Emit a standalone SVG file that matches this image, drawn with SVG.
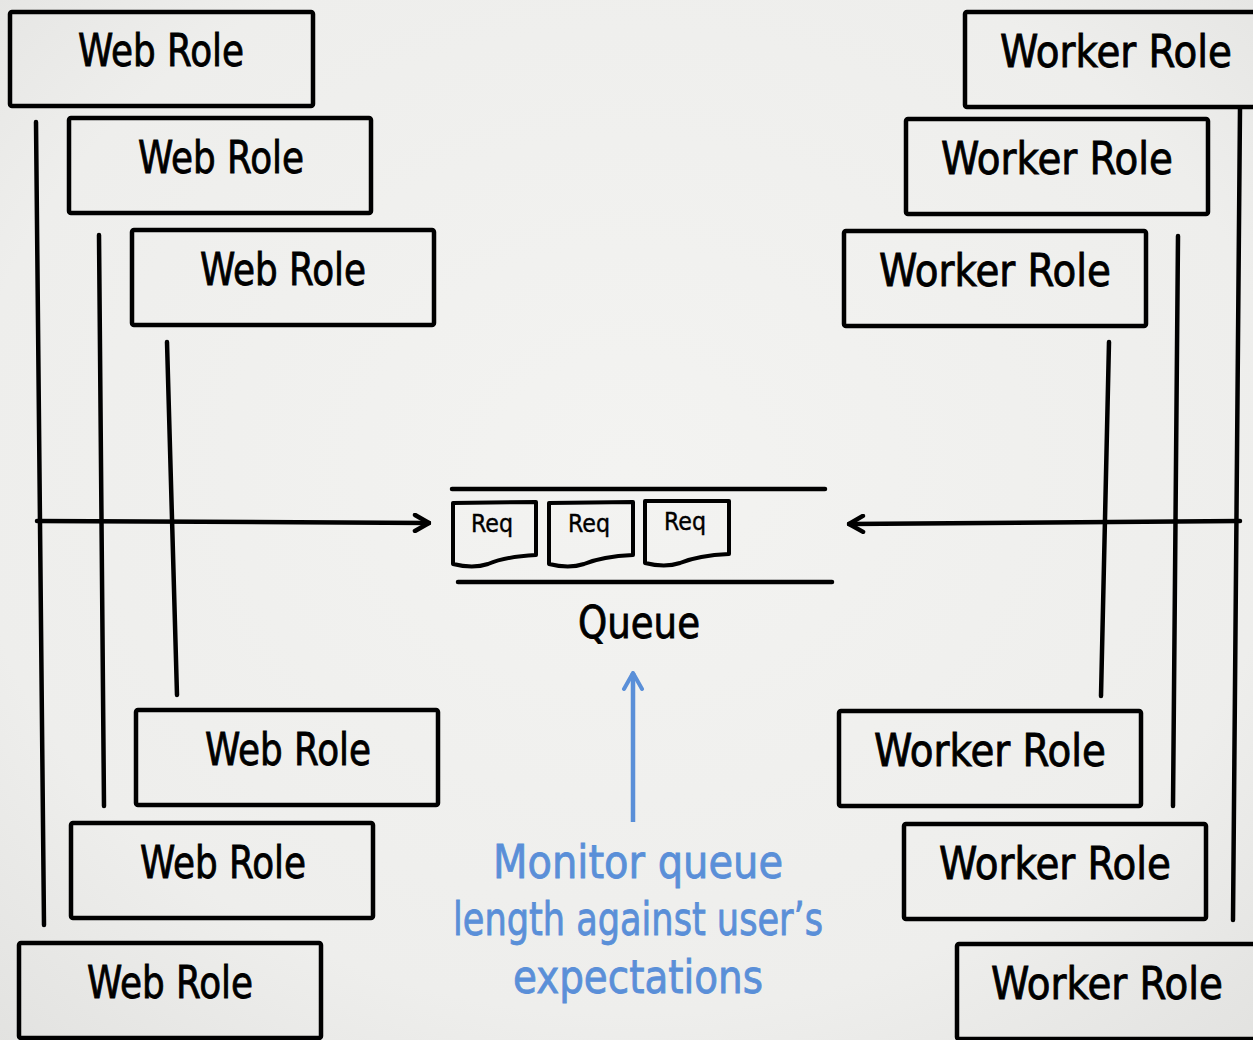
<svg xmlns="http://www.w3.org/2000/svg" width="1253" height="1040" viewBox="0 0 1253 1040">
<style>
.box{fill:none;stroke:#000;stroke-width:4.5;stroke-linejoin:round}
.lbl{font-family:"DejaVu Sans Condensed","Liberation Sans",sans-serif;font-size:44px;fill:#000;stroke:#000;stroke-width:0.8;text-anchor:middle}
.ln{stroke:#000;stroke-width:4.5;fill:none;stroke-linecap:round}
.req{fill:none;stroke:#000;stroke-width:4;stroke-linejoin:round}
.rq{font-family:"DejaVu Sans Condensed","Liberation Sans",sans-serif;font-size:24px;fill:#000;stroke:#000;stroke-width:0.4}
.blue{font-family:"DejaVu Sans Condensed","Liberation Sans",sans-serif;font-size:46px;fill:#5a8fd8;stroke:#5a8fd8;stroke-width:0.8;text-anchor:middle}
</style>
<defs>
<radialGradient id="bg" cx="0.5" cy="0.45" r="0.75">
<stop offset="0" stop-color="#f3f3f1"/>
<stop offset="0.7" stop-color="#eeeeec"/>
<stop offset="1" stop-color="#e2e2e0"/>
</radialGradient>
<marker id="ah" viewBox="0 0 20 20" refX="18" refY="10" markerWidth="20" markerHeight="20" markerUnits="userSpaceOnUse" orient="auto">
<path d="M4 2 L18 10 L4 18" fill="none" stroke="#000" stroke-width="4.5" stroke-linecap="round" stroke-linejoin="round"/>
</marker>
<marker id="ahb" viewBox="0 0 24 24" refX="22" refY="12" markerWidth="24" markerHeight="24" markerUnits="userSpaceOnUse" orient="auto">
<path d="M6 3 L22 12 L6 21" fill="none" stroke="#5a8fd8" stroke-width="4" stroke-linecap="round" stroke-linejoin="round"/>
</marker>
</defs>
<rect width="1253" height="1040" fill="url(#bg)"/>

<g id="connectors">
<path class="ln" d="M36 122 L44 925"/>
<path class="ln" d="M99 235 L104 806"/>
<path class="ln" d="M167 342 L177 695"/>
<path class="ln" d="M1240 108 L1233 920"/>
<path class="ln" d="M1178 236 L1173 806"/>
<path class="ln" d="M1109 342 L1101 696"/>
<path class="ln" d="M37 521 L429 523" marker-end="url(#ah)"/>
<path class="ln" d="M1240 521 L849 524" marker-end="url(#ah)"/>
<path d="M633 822 L633 673" stroke="#5a8fd8" stroke-width="4.5" fill="none" marker-end="url(#ahb)"/>
</g>

<g id="web1"><rect class="box" x="10" y="12" width="303" height="94" rx="2"/><text class="lbl" x="161" y="66" textLength="166" lengthAdjust="spacingAndGlyphs">Web Role</text></g>
<g id="web2"><rect class="box" x="69" y="118" width="302" height="95" rx="2"/><text class="lbl" x="221" y="173" textLength="166" lengthAdjust="spacingAndGlyphs">Web Role</text></g>
<g id="web3"><rect class="box" x="132" y="230" width="302" height="95" rx="2"/><text class="lbl" x="283" y="285" textLength="166" lengthAdjust="spacingAndGlyphs">Web Role</text></g>
<g id="web4"><rect class="box" x="136" y="710" width="302" height="95" rx="2"/><text class="lbl" x="288" y="765" textLength="166" lengthAdjust="spacingAndGlyphs">Web Role</text></g>
<g id="web5"><rect class="box" x="71" y="823" width="302" height="95" rx="2"/><text class="lbl" x="223" y="878" textLength="166" lengthAdjust="spacingAndGlyphs">Web Role</text></g>
<g id="web6"><rect class="box" x="19" y="943" width="302" height="95" rx="2"/><text class="lbl" x="170" y="998" textLength="166" lengthAdjust="spacingAndGlyphs">Web Role</text></g>

<g id="worker1"><rect class="box" x="965" y="12" width="300" height="95" rx="2"/><text class="lbl" x="1116" y="67" textLength="232" lengthAdjust="spacingAndGlyphs">Worker Role</text></g>
<g id="worker2"><rect class="box" x="906" y="119" width="302" height="95" rx="2"/><text class="lbl" x="1057" y="174" textLength="232" lengthAdjust="spacingAndGlyphs">Worker Role</text></g>
<g id="worker3"><rect class="box" x="844" y="231" width="302" height="95" rx="2"/><text class="lbl" x="995" y="286" textLength="232" lengthAdjust="spacingAndGlyphs">Worker Role</text></g>
<g id="worker4"><rect class="box" x="839" y="711" width="302" height="95" rx="2"/><text class="lbl" x="990" y="766" textLength="232" lengthAdjust="spacingAndGlyphs">Worker Role</text></g>
<g id="worker5"><rect class="box" x="904" y="824" width="302" height="95" rx="2"/><text class="lbl" x="1055" y="879" textLength="232" lengthAdjust="spacingAndGlyphs">Worker Role</text></g>
<g id="worker6"><rect class="box" x="957" y="944" width="310" height="95" rx="2"/><text class="lbl" x="1107" y="999" textLength="232" lengthAdjust="spacingAndGlyphs">Worker Role</text></g>

<g id="queue">
<path class="ln" d="M452 489 L825 489" stroke-linecap="butt"/>
<path class="ln" d="M458 582 L832 582" stroke-linecap="butt"/>
<path class="req" d="M453 503 L536 502 L536 555 C515 556 500 559 488 564 C476 568 465 567 453 564 Z"/>
<text class="rq" x="471" y="532" textLength="42" lengthAdjust="spacingAndGlyphs">Req</text>
<path class="req" d="M549 503 L633 502 L633 555 C611 556 596 559 584 564 C572 568 561 567 549 564 Z"/>
<text class="rq" x="568" y="532" textLength="42" lengthAdjust="spacingAndGlyphs">Req</text>
<path class="req" d="M645 501 L729 501 L729 554 C707 555 692 558 680 563 C668 567 657 566 645 563 Z"/>
<text class="rq" x="664" y="530" textLength="42" lengthAdjust="spacingAndGlyphs">Req</text>
<text class="lbl" x="639" y="638" textLength="122" lengthAdjust="spacingAndGlyphs">Queue</text>
</g>

<g id="note">
<text class="blue" x="638" y="878" textLength="290" lengthAdjust="spacingAndGlyphs">Monitor queue</text>
<text class="blue" x="638" y="935" textLength="370" lengthAdjust="spacingAndGlyphs">length against user’s</text>
<text class="blue" x="638" y="993" textLength="250" lengthAdjust="spacingAndGlyphs">expectations</text>
</g>
</svg>
